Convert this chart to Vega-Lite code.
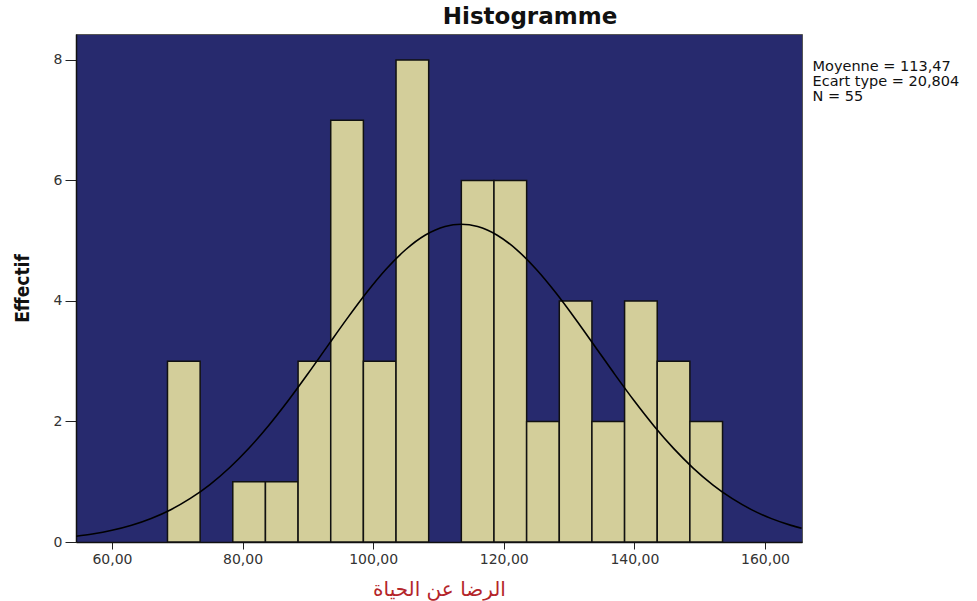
{
  "$schema": "https://vega.github.io/schema/vega-lite/v6.json",
  "width": 726,
  "height": 508,
  "autosize": {"type": "none"},
  "padding": {"left": 76, "top": 34, "right": 175, "bottom": 59},
  "background": "white",
  "view": {"fill": "#272a6e", "stroke": "#555555", "strokeWidth": 1},
  "config": {
    "font": "DejaVu Sans"
  },
  "title": {
    "text": "Histogramme",
    "font": "DejaVu Sans",
    "fontSize": 23,
    "fontWeight": "bold",
    "color": "#111111",
    "anchor": "middle",
    "dx": 91,
    "offset": 5
  },
  "datasets": {
    "bins": [
      {"lo": 68.5, "hi": 73.5, "n": 3},
      {"lo": 78.5, "hi": 83.5, "n": 1},
      {"lo": 83.5, "hi": 88.5, "n": 1},
      {"lo": 88.5, "hi": 93.5, "n": 3},
      {"lo": 93.5, "hi": 98.5, "n": 7},
      {"lo": 98.5, "hi": 103.5, "n": 3},
      {"lo": 103.5, "hi": 108.5, "n": 8},
      {"lo": 113.5, "hi": 118.5, "n": 6},
      {"lo": 118.5, "hi": 123.5, "n": 6},
      {"lo": 123.5, "hi": 128.5, "n": 2},
      {"lo": 128.5, "hi": 133.5, "n": 4},
      {"lo": 133.5, "hi": 138.5, "n": 2},
      {"lo": 138.5, "hi": 143.5, "n": 4},
      {"lo": 143.5, "hi": 148.5, "n": 3},
      {"lo": 148.5, "hi": 153.5, "n": 2}
    ],
    "curve": [
      {"x": 54.5, "y": 0.095},
      {"x": 57, "y": 0.1325},
      {"x": 60, "y": 0.1939},
      {"x": 63, "y": 0.278},
      {"x": 66, "y": 0.3905},
      {"x": 69, "y": 0.5366},
      {"x": 72, "y": 0.7232},
      {"x": 75, "y": 0.9539},
      {"x": 78, "y": 1.2326},
      {"x": 81, "y": 1.5599},
      {"x": 84, "y": 1.9334},
      {"x": 87, "y": 2.3473},
      {"x": 90, "y": 2.791},
      {"x": 93, "y": 3.2499},
      {"x": 96, "y": 3.7065},
      {"x": 99, "y": 4.1403},
      {"x": 102, "y": 4.5298},
      {"x": 105, "y": 4.8538},
      {"x": 108, "y": 5.0942},
      {"x": 111, "y": 5.2363},
      {"x": 113.47, "y": 5.2734},
      {"x": 116, "y": 5.2345},
      {"x": 119, "y": 5.0904},
      {"x": 122, "y": 4.8483},
      {"x": 125, "y": 4.5226},
      {"x": 128, "y": 4.132},
      {"x": 131, "y": 3.6976},
      {"x": 134, "y": 3.2408},
      {"x": 137, "y": 2.7818},
      {"x": 140, "y": 2.3387},
      {"x": 143, "y": 1.9257},
      {"x": 146, "y": 1.553},
      {"x": 149, "y": 1.2267},
      {"x": 152, "y": 0.9489},
      {"x": 155, "y": 0.7191},
      {"x": 158, "y": 0.5337},
      {"x": 161, "y": 0.3878},
      {"x": 164, "y": 0.2761},
      {"x": 165.6, "y": 0.2284}
    ],
    "stats": [
      {"stat": "Moyenne = 113,47"},
      {"stat": "Ecart type = 20,804"},
      {"stat": "N = 55"}
    ]
  },
  "layer": [
    {
      "data": {"name": "bins"},
      "mark": {"type": "bar", "fill": "#d3ce9a", "stroke": "#111111", "strokeWidth": 1.5, "clip": true},
      "encoding": {
        "x": {
          "field": "lo", "type": "quantitative",
          "scale": {"domain": [54.49, 165.67], "nice": false, "zero": false},
          "axis": {
            "title": "الرضا عن الحياة",
            "titleFont": "DejaVu Sans",
            "titleFontSize": 20,
            "titleFontWeight": "normal",
            "titleColor": "#b4252a",
            "titlePadding": 13,
            "values": [60, 80, 100, 120, 140, 160],
            "labelExpr": "replace(format(datum.value, '.2f'), '.', ',')",
            "labelFont": "DejaVu Sans",
            "labelFontSize": 14,
            "labelColor": "#333333",
            "labelPadding": 3,
            "tickSize": 7,
            "tickColor": "#222222",
            "domainColor": "#111111",
            "domainWidth": 1.5,
            "grid": false
          }
        },
        "x2": {"field": "hi"},
        "y": {
          "field": "n", "type": "quantitative",
          "scale": {"domain": [0, 8.43], "nice": false},
          "axis": {
            "title": "Effectif",
            "titleFont": "DejaVu Sans Condensed",
            "titleFontSize": 19,
            "titleFontWeight": "bold",
            "titleColor": "#111111",
            "titlePadding": 21,
            "values": [0, 2, 4, 6, 8],
            "format": "d",
            "labelFont": "DejaVu Sans",
            "labelFontSize": 14,
            "labelColor": "#333333",
            "labelPadding": 3,
            "tickSize": 11,
            "tickColor": "#222222",
            "domainColor": "#111111",
            "domainWidth": 1.5,
            "grid": false
          }
        },
        "y2": {"datum": 0}
      }
    },
    {
      "data": {"name": "curve"},
      "mark": {"type": "line", "color": "#000000", "strokeWidth": 1.6, "clip": true, "interpolate": "monotone"},
      "encoding": {
        "x": {"field": "x", "type": "quantitative"},
        "y": {"field": "y", "type": "quantitative"}
      }
    },
    {
      "data": {"name": "stats"},
      "mark": {"type": "point", "opacity": 0, "size": 0},
      "encoding": {
        "color": {
          "field": "stat", "type": "nominal",
          "scale": {"domain": ["Moyenne = 113,47", "Ecart type = 20,804", "N = 55"], "range": ["#000000", "#000000", "#000000"]},
          "legend": {
            "title": null,
            "orient": "right",
            "offset": -30,
            "padding": 26,
            "symbolSize": 0,
            "symbolOpacity": 0,
            "symbolStrokeWidth": 0,
            "labelOffset": 0,
            "labelFont": "DejaVu Sans",
            "labelFontSize": 14.5,
            "labelColor": "#111111",
            "labelLimit": 400,
            "rowPadding": 0
          }
        }
      }
    }
  ]
}
